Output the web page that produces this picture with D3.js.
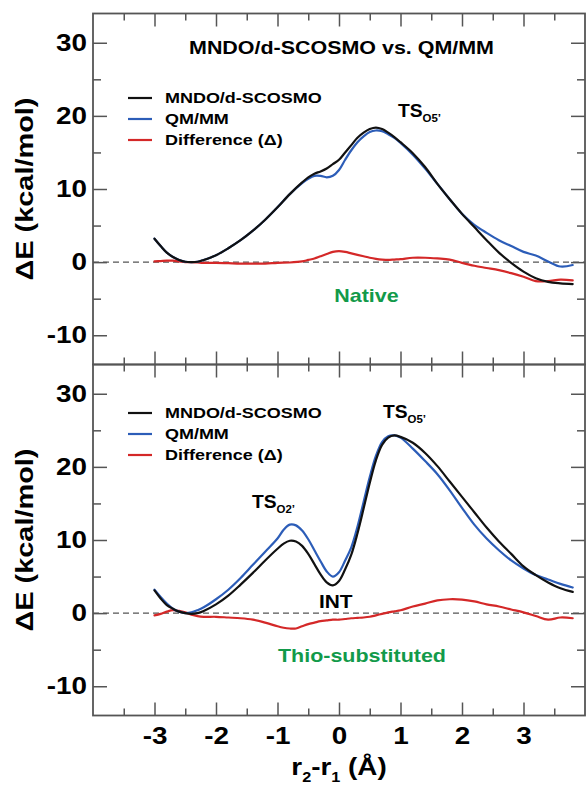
<!DOCTYPE html>
<html>
<head>
<meta charset="utf-8">
<script src="https://cdn.jsdelivr.net/npm/d3@7"></script>
<style>
  html, body { margin: 0; padding: 0; background: #fff; }
  svg { display: block; font-family: "Liberation Sans", Arial, Helvetica, sans-serif; }
</style>
</head>
<body>
<svg id="chart" width="586" height="789"></svg>
<script>
// ---------------- DATA ----------------
const xTicks = [-3, -2, -1, 0, 1, 2, 3];
const xMinorTicks = [-3.5, -2.5, -1.5, -0.5, 0.5, 1.5, 2.5, 3.5];
const yTicks = [-10, 0, 10, 20, 30];
const yMinorTicks = [-5, 5, 15, 25];
const seriesNames = ["MNDO/d-SCOSMO", "QM/MM", "Difference (\u0394)"];

// Native panel
const nativeX = [-3, -2.9, -2.8, -2.7, -2.6, -2.5, -2.4, -2.3, -2.2, -2.0, -1.8, -1.6, -1.4, -1.2, -1.0, -0.8,
  -0.6, -0.5, -0.4, -0.3, -0.2, -0.1, 0, 0.1, 0.2, 0.3, 0.4, 0.5, 0.6, 0.7, 0.8, 0.9, 1.0, 1.2, 1.4, 1.6, 1.8,
  2.0, 2.2, 2.4, 2.6, 2.8, 3.0, 3.2, 3.4, 3.6, 3.8];
const nativeMNDO = [3.2, 2.2, 1.3, 0.7, 0.3, 0.05, 0.0, 0.05, 0.3, 0.95, 1.9, 3.0, 4.3, 5.8, 7.5, 9.3,
  10.9, 11.6, 12.1, 12.4, 12.8, 13.4, 14.0, 15.0, 16.0, 17.0, 17.7, 18.2, 18.4, 18.2, 17.7, 17.1, 16.4, 14.9, 13.0, 10.7, 8.6,
  6.6, 4.8, 3.0, 1.3, -0.1, -1.3, -2.2, -2.7, -2.9, -3.0];
const nativeQMMM = [3.2, 2.2, 1.3, 0.7, 0.3, 0.05, 0.0, 0.05, 0.3, 0.95, 1.9, 3.0, 4.3, 5.8, 7.5, 9.3,
  10.8, 11.4, 11.8, 11.8, 11.6, 11.8, 12.6, 14.0, 15.3, 16.4, 17.2, 17.8, 18.0, 17.9, 17.5, 17.0, 16.3, 14.7, 12.8, 10.7, 8.6,
  6.6, 5.1, 4.0, 3.0, 2.2, 1.4, 0.9, 0.1, -0.6, -0.4];
const nativeDiff = [0.1, 0.15, 0.2, 0.2, 0.1, 0.0, 0.0, -0.05, -0.1, -0.1, -0.15, -0.2, -0.2, -0.2, -0.1, -0.05,
  0.1, 0.3, 0.5, 0.8, 1.1, 1.4, 1.5, 1.4, 1.2, 1.0, 0.8, 0.6, 0.45, 0.35, 0.3, 0.35, 0.4, 0.6, 0.6, 0.5, 0.35,
  -0.1, -0.5, -0.8, -1.1, -1.5, -2.0, -2.6, -2.6, -2.4, -2.5];

// Thio-substituted panel
const thioX = [-3, -2.9, -2.8, -2.7, -2.6, -2.5, -2.4, -2.3, -2.2, -2.0, -1.8, -1.6, -1.4, -1.2, -1.0, -0.9,
  -0.8, -0.7, -0.6, -0.5, -0.4, -0.3, -0.2, -0.1, 0, 0.1, 0.2, 0.3, 0.4, 0.5, 0.6, 0.7, 0.8, 0.9, 1.0,
  1.2, 1.4, 1.6, 1.8, 2.0, 2.2, 2.4, 2.6, 2.8, 3.0, 3.2, 3.4, 3.6, 3.8];
const thioMNDO = [3.1, 2.0, 1.1, 0.6, 0.2, 0.0, -0.1, 0.0, 0.3, 1.2, 2.4, 3.9, 5.5, 7.2, 8.8, 9.5,
  9.9, 9.8, 9.2, 8.1, 6.7, 5.3, 4.2, 3.8, 4.4, 6.0, 8.0, 10.9, 14.3, 17.8, 20.9, 23.0, 24.0, 24.3, 24.1,
  23.3, 21.9, 20.1, 18.0, 15.9, 13.8, 11.7, 9.8, 8.1, 6.4, 5.2, 4.2, 3.4, 2.9];
const thioQMMM = [3.2, 2.2, 1.3, 0.6, 0.2, 0.0, 0.1, 0.4, 0.8, 1.9, 3.2, 4.8, 6.6, 8.4, 10.2, 11.4,
  12.1, 12.0, 11.3, 10.1, 8.6, 7.1, 5.7, 5.0, 5.6, 7.2, 9.0, 11.8, 15.2, 18.6, 21.5, 23.4, 24.2, 24.3, 24.0,
  22.5, 20.8, 19.0, 16.8, 14.4, 12.1, 10.2, 8.6, 7.2, 6.1, 5.2, 4.6, 4.0, 3.5];
const thioDiff = [-0.3, -0.1, 0.2, 0.4, 0.3, 0.1, -0.2, -0.4, -0.5, -0.5, -0.6, -0.7, -0.9, -1.3, -1.8, -2.0,
  -2.1, -2.1, -1.8, -1.5, -1.3, -1.1, -1.0, -0.9, -0.9, -0.8, -0.7, -0.65, -0.6, -0.5, -0.3, -0.1, 0.1, 0.25, 0.4,
  0.9, 1.3, 1.75, 1.9, 1.85, 1.6, 1.2, 0.9, 0.5, 0.1, -0.4, -0.9, -0.6, -0.7];

// ---------------- LAYOUT ----------------
const S = 1.16; // horizontal stretch of the original lettering
const W = 586, H = 789;
const left = 93, right = 585;
const panels = [
  { top: 13.5, bottom: 364.5, x: nativeX, ys: [nativeMNDO, nativeQMMM, nativeDiff], xLabels: false,
    legendY: [98, 119, 140] },
  { top: 364.5, bottom: 715.5, x: thioX, ys: [thioMNDO, thioQMMM, thioDiff], xLabels: true,
    legendY: [413, 434, 455] }
];
const colors = ["#111111", "#2c5db8", "#d42828"];
const axisColor = "#555";

const svg = d3.select("#chart");
svg.append("rect").attr("width", W).attr("height", H).attr("fill", "#fff");

const x = d3.scaleLinear().domain([-4, 4]).range([left, right]);

function stretchText(sel, s) {
  const k = s || S;
  sel.each(function () {
    const t = d3.select(this);
    const xv = +t.attr("x") || 0;
    t.attr("x", xv / k).attr("transform", `scale(${k},1)`);
  });
}

function addText(g, str, px, py, size, anchor, color) {
  const t = g.append("text")
    .attr("x", px).attr("y", py)
    .attr("font-size", size).attr("font-weight", "bold")
    .attr("text-anchor", anchor || "start")
    .attr("fill", color || "#000")
    .text(str);
  stretchText(t);
  return t;
}

function addSubText(g, main, sub, px, py, size, subSize) {
  const t = g.append("text")
    .attr("x", px).attr("y", py)
    .attr("font-size", size).attr("font-weight", "bold").attr("fill", "#000");
  t.append("tspan").text(main);
  t.append("tspan").attr("font-size", subSize).attr("dy", 5).text(sub);
  stretchText(t, 1.04);
  return t;
}

panels.forEach((p, pi) => {
  const y = d3.scaleLinear().domain([-14, 34]).range([p.bottom, p.top]);
  const g = svg.append("g");

  // dashed zero line
  g.append("line")
    .attr("x1", left).attr("x2", right)
    .attr("y1", y(0)).attr("y2", y(0))
    .attr("stroke", "#555").attr("stroke-width", 1.4)
    .attr("stroke-dasharray", "6,4");

  // axes (inward ticks on all sides)
  const styleAxis = (ag) => {
    ag.select(".domain").remove();
    ag.selectAll(".tick line").attr("stroke", axisColor).attr("stroke-width", 1.5);
    ag.selectAll(".tick text").attr("fill", "#000").attr("font-size", 24).attr("font-weight", "bold")
      .attr("font-family", "Liberation Sans, Arial, sans-serif");
  };
  // bottom
  const gb = g.append("g").attr("transform", `translate(0,${p.bottom})`)
    .call(d3.axisBottom(x).tickValues(xTicks).tickSize(-13).tickPadding(11.5)
      .tickFormat(p.xLabels ? d3.format("d") : ""));
  styleAxis(gb);
  gb.selectAll(".tick text").each(function () { d3.select(this).text(d3.select(this).text().replace("\u2212", "-")); });
  stretchText(gb.selectAll(".tick text"));
  const gbm = g.append("g").attr("transform", `translate(0,${p.bottom})`)
    .call(d3.axisBottom(x).tickValues(xMinorTicks).tickSize(-7).tickFormat(""));
  styleAxis(gbm);
  // top
  const gt = g.append("g").attr("transform", `translate(0,${p.top})`)
    .call(d3.axisTop(x).tickValues(xTicks).tickSize(-13).tickFormat(""));
  styleAxis(gt);
  const gtm = g.append("g").attr("transform", `translate(0,${p.top})`)
    .call(d3.axisTop(x).tickValues(xMinorTicks).tickSize(-7).tickFormat(""));
  styleAxis(gtm);
  // left
  const gl = g.append("g").attr("transform", `translate(${left},0)`)
    .call(d3.axisLeft(y).tickValues(yTicks).tickSize(-14).tickPadding(6).tickFormat(d3.format("d")));
  styleAxis(gl);
  gl.selectAll(".tick text").each(function () { d3.select(this).text(d3.select(this).text().replace("\u2212", "-")); });
  stretchText(gl.selectAll(".tick text"));
  const glm = g.append("g").attr("transform", `translate(${left},0)`)
    .call(d3.axisLeft(y).tickValues(yMinorTicks).tickSize(-8).tickFormat(""));
  styleAxis(glm);
  // right
  const gr = g.append("g").attr("transform", `translate(${right},0)`)
    .call(d3.axisRight(y).tickValues(yTicks).tickSize(-14).tickFormat(""));
  styleAxis(gr);
  const grm = g.append("g").attr("transform", `translate(${right},0)`)
    .call(d3.axisRight(y).tickValues(yMinorTicks).tickSize(-8).tickFormat(""));
  styleAxis(grm);

  // frame
  g.append("rect")
    .attr("x", left).attr("y", p.top)
    .attr("width", right - left).attr("height", p.bottom - p.top)
    .attr("fill", "none").attr("stroke", axisColor).attr("stroke-width", 1.8);

  // curves
  const line = d3.line().x((d) => x(d[0])).y((d) => y(d[1])).curve(d3.curveCatmullRom.alpha(0.5));
  [2, 1, 0].forEach((si) => {
    const pts = p.x.map((xv, i) => [xv, p.ys[si][i]]);
    g.append("path").datum(pts)
      .attr("d", line)
      .attr("fill", "none")
      .attr("stroke", colors[si])
      .attr("stroke-width", 2.2)
      .attr("stroke-linejoin", "round").attr("stroke-linecap", "round");
  });

  // legend
  seriesNames.forEach((name, i) => {
    const ly = p.legendY[i];
    g.append("line").attr("x1", 128).attr("x2", 152).attr("y1", ly).attr("y2", ly)
      .attr("stroke", colors[i]).attr("stroke-width", 2.2);
    addText(g, name, 165, ly + 5.5, 15.5, "start", "#000");
  });

  // y label
  g.append("text")
    .attr("transform", `translate(33,${(p.top + p.bottom) / 2}) rotate(-90)`)
    .attr("x", -91.5).attr("y", 0)
    .attr("font-size", 23.5).attr("font-weight", "bold").attr("fill", "#000")
    .attr("textLength", 183).attr("lengthAdjust", "spacingAndGlyphs")
    .text("\u0394E (kcal/mol)");
});

// annotations
const ann = svg.append("g");
addText(ann, "MNDO/d-SCOSMO vs. QM/MM", 341.5, 54, 18.5, "middle", "#000");
addSubText(ann, "TS", "O5\u2019", 398, 117, 18.5, 11);
addText(ann, "Native", 366.5, 302, 18.5, "middle", "#129a4a");
addSubText(ann, "TS", "O5\u2019", 383, 418, 18.5, 11);
addSubText(ann, "TS", "O2\u2019", 252, 508, 18.5, 11);
addText(ann, "INT", 319, 608, 18, "start", "#000");
addText(ann, "Thio-substituted", 362, 662, 18.5, "middle", "#129a4a");

// x label  r2-r1 (Å)
const xl = ann.append("text")
  .attr("x", 339).attr("y", 775)
  .attr("font-size", 24).attr("font-weight", "bold").attr("fill", "#000")
  .attr("text-anchor", "middle");
xl.append("tspan").text("r");
xl.append("tspan").attr("font-size", 14).attr("dy", 7).text("2");
xl.append("tspan").attr("dy", -7).text("-r");
xl.append("tspan").attr("font-size", 14).attr("dy", 7).text("1");
xl.append("tspan").attr("dy", -7).text(" (\u00C5)");
stretchText(xl);
</script>
</body>
</html>
